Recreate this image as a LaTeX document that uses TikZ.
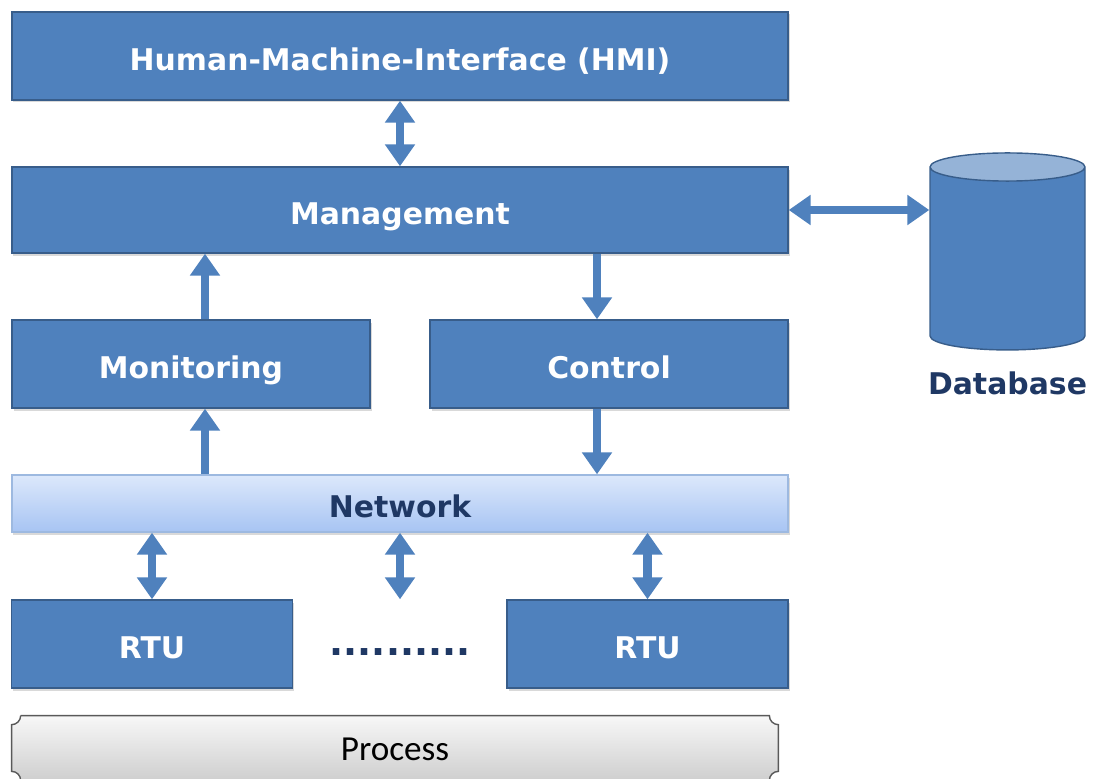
\documentclass[tikz,border=0pt]{standalone}
\usepackage{fontspec}
\newfontfamily\boxfont{DejaVu Sans}
\newfontfamily\procfont{Carlito}
\usetikzlibrary{arrows.meta,positioning,shapes.geometric,calc,backgrounds,shadows}
\definecolor{boxblue}{HTML}{4F81BD}
\definecolor{boxedge}{HTML}{385D8A}
\definecolor{navy}{HTML}{1F3864}
\definecolor{nettop}{HTML}{DCE8FB}
\definecolor{netbot}{HTML}{A7C4F3}
\definecolor{netedge}{HTML}{9DB9E0}
\definecolor{dbtop}{HTML}{95B3D7}

\begin{document}
\begin{tikzpicture}[
  block/.style={rectangle,draw=boxedge,line width=0.8pt,fill=boxblue,text=white,
    font=\boxfont\bfseries\fontsize{17}{20}\selectfont,inner sep=0pt,
    text height=0.6cm,text depth=0.04cm,
    drop shadow={shadow xshift=0.03cm,shadow yshift=-0.05cm,opacity=0.3}},
  wide/.style={block,minimum width=15.52cm,minimum height=1.76cm},
  half/.style={block,minimum width=7.16cm,minimum height=1.76cm},
  rtu/.style={block,minimum width=5.62cm,minimum height=1.76cm},
  link/.style={boxblue,line width=5pt,-{Triangle[width=0.58cm,length=0.44cm]}},
  twolink/.style={link,{Triangle[width=0.58cm,length=0.44cm]}-{Triangle[width=0.58cm,length=0.44cm]}}]
  \useasboundingbox (0,0) rectangle (21.86,-15.56);
  % the layered stack
  \node[wide] (hmi) at (8.0,-1.12) {Human-Machine-Interface (HMI)};
  \node[wide,minimum height=1.72cm] (mgmt) at (8.0,-4.2) {Management};
  \node[half] (mon) at (3.82,-7.28) {Monitoring};
  \node[half] (ctrl) at (12.18,-7.28) {Control};
  \node[wide,minimum height=1.14cm,draw=netedge,top color=nettop,bottom color=netbot,text=navy] (net) at (8.0,-10.07) {Network};
  \node[rtu] (rtua) at (3.04,-12.88) {RTU};
  \node[rtu] (rtub) at (12.95,-12.88) {RTU};
  \node[text=navy,font=\boxfont\bfseries\fontsize{21}{24}\selectfont] (dots) at (8.0,-13.04) {..........};
  % process bar with notched corners
  \node[minimum width=15.32cm,minimum height=1.24cm,font=\procfont\fontsize{20}{24}\selectfont] (proc) at (7.9,-14.98) {Process};
  \begin{scope}[on background layer]
    \shadedraw[top color=gray!6,bottom color=gray!38,draw=black!65,line width=0.8pt]
      ($(proc.north west)+(0.18,0.04)$) -- ($(proc.north east)+(-0.18,0.04)$)
      arc[start angle=180,end angle=270,radius=0.18] -- ($(proc.south east)+(0,0.18)$)
      arc[start angle=90,end angle=180,radius=0.18] -- ($(proc.south west)+(0.18,0)$)
      arc[start angle=0,end angle=90,radius=0.18] -- ($(proc.north west)+(0,-0.14)$)
      arc[start angle=270,end angle=360,radius=0.18] -- cycle;
  \end{scope}
  % database
  \node[cylinder,shape border rotate=90,aspect=2.4,draw=boxedge,line width=0.8pt,
    cylinder uses custom fill,cylinder body fill=boxblue,cylinder end fill=dbtop,
    minimum width=3.1cm,minimum height=3.94cm] (db) at (20.15,-5.23) {};
  \node[below=0.3cm of db,text=navy,font=\boxfont\bfseries\fontsize{17}{20}\selectfont] (dblabel) {Database};
  % links
  \coordinate (monup) at ([xshift=0.28cm]mon.north);
  \coordinate (mondn) at ([xshift=0.28cm]mon.south);
  \coordinate (ctrlup) at ([xshift=-0.24cm]ctrl.north);
  \coordinate (ctrldn) at ([xshift=-0.24cm]ctrl.south);
  \draw[twolink] (hmi) -- (mgmt);
  \draw[link] (monup) -- (monup |- mgmt.south);
  \draw[link] (ctrlup |- mgmt.south) -- (ctrlup);
  \draw[link] (mondn |- net.north) -- (mondn);
  \draw[link] (ctrldn) -- (ctrldn |- net.north);
  \draw[twolink] (rtua.north) -- (rtua.north |- net.south);
  \draw[twolink] (net.south) -- (net.south |- rtua.north);
  \draw[twolink] (rtub.north) -- (rtub.north |- net.south);
  \draw[twolink] (mgmt.east) -- (mgmt.east -| db.west);
\end{tikzpicture}
\end{document}
